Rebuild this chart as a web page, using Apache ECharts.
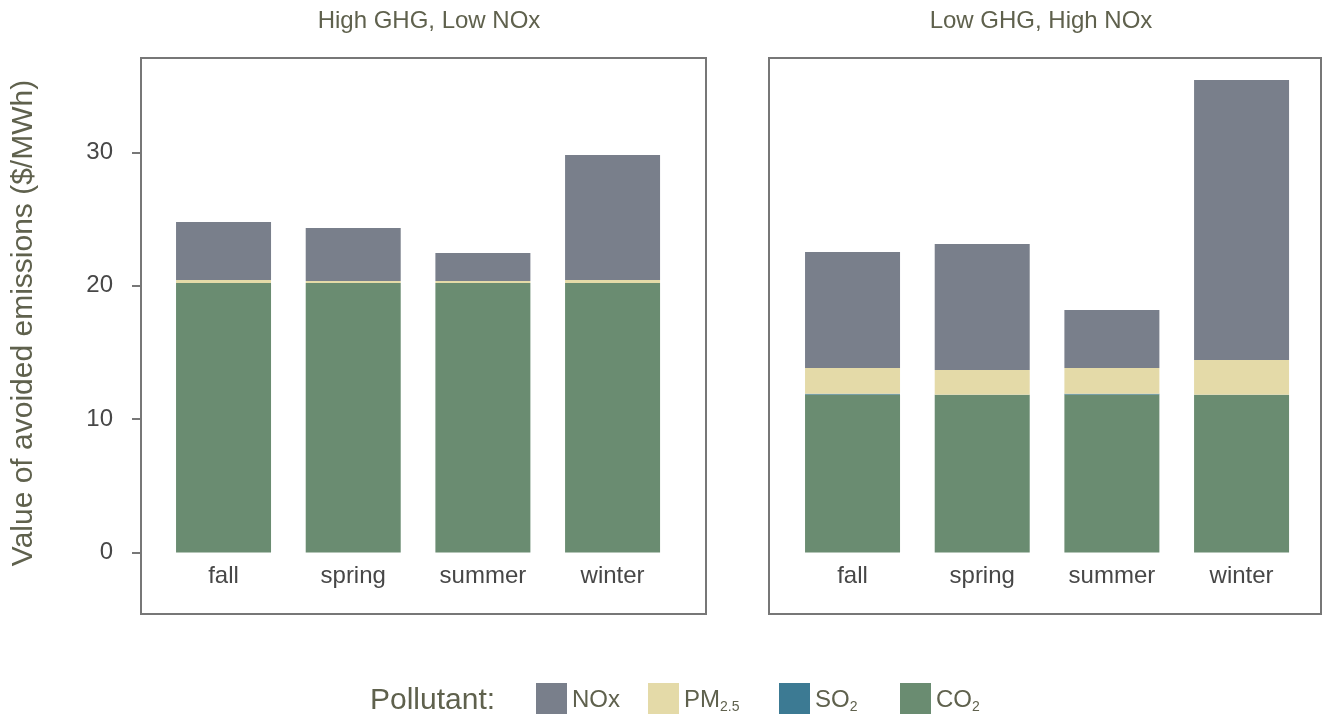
<!DOCTYPE html>
<html lang="en">

<head>
	<meta charset="UTF-8">
	<title>Value of avoided emissions</title>
	<script src="https://cdn.jsdelivr.net/npm/echarts@6/dist/echarts.min.js"></script>
	<style>
		html, body { margin: 0; padding: 0; background: #fff; }
	</style>
</head>

<body>
	<div id="main" style="width: 1323px;height: 719px;"></div>

	<script>
		// seasons on the x axis of both panels
		var seasons = ['fall', 'spring', 'summer', 'winter'];
		var panelTitles = ['High GHG, Low NOx', 'Low GHG, High NOx'];
		var yTicks = [0, 10, 20, 30];
		var pollutants = ['NOx', 'PM2.5', 'SO2', 'CO2'];

		// High GHG, Low NOx ($/MWh)
		var co2Left = [20.2, 20.2, 20.2, 20.2];
		var so2Left = [0.01, 0.01, 0.01, 0.01];
		var pmLeft = [0.22, 0.15, 0.15, 0.22];
		var noxLeft = [4.35, 3.97, 2.09, 9.37];

		// Low GHG, High NOx ($/MWh)
		var co2Right = [11.85, 11.8, 11.85, 11.8];
		var so2Right = [0.05, 0.02, 0.05, 0.02];
		var pmRight = [1.93, 1.86, 1.93, 2.61];
		var noxRight = [8.7, 9.45, 4.35, 20.99];

		var colors = {
			'NOx': '#797f8b',
			'PM2.5': '#e4daa8',
			'SO2': '#3c7a93',
			'CO2': '#6a8c71'
		};
		var legendLabels = {
			'NOx': '{n|NOx}',
			'PM2.5': '{n|PM}{s|2.5}',
			'SO2': '{n|SO}{s|2}',
			'CO2': '{n|CO}{s|2}'
		};
		var legendLeft = [536, 648, 779, 900];

		var FONT = 'Liberation Sans';
		var OLIVE = '#5f614d';
		var Y_MIN = -4.6, Y_MAX = 37.07;

		var chartDom = document.getElementById('main');
		var myChart = echarts.init(chartDom);

		function stackSeries(gridIdx, stack, co2, so2, pm, nox) {
			var list = [
				['CO2', co2], ['SO2', so2], ['PM2.5', pm], ['NOx', nox]
			];
			return list.map(function (d) {
				return {
					type: 'bar',
					name: d[0],
					stack: stack,
					xAxisIndex: gridIdx,
					yAxisIndex: gridIdx,
					barWidth: 95,
					itemStyle: { color: colors[d[0]] },
					emphasis: { disabled: true },
					data: d[1]
				};
			});
		}

		// one legend block per pollutant so each swatch sits where it should
		var legends = pollutants.map(function (p, i) {
			return {
				data: [p],
				left: legendLeft[i],
				top: 683,
				padding: 0,
				itemWidth: 31,
				itemHeight: 31,
				itemGap: 0,
				icon: 'rect',
				selectedMode: false,
				formatter: function (name) { return legendLabels[name]; },
				textStyle: {
					fontFamily: FONT,
					color: OLIVE,
					rich: {
						n: { fontFamily: FONT, fontSize: 24, color: OLIVE, lineHeight: 31, padding: [4, 0, 0, 0] },
						s: { fontFamily: FONT, fontSize: 14, color: OLIVE, lineHeight: 4, verticalAlign: 'bottom' }
					}
				}
			};
		});

		var boxGrid = { show: true, borderColor: '#777', borderWidth: 2, backgroundColor: 'transparent', top: 58, height: 556 };
		var catLabel = { margin: 12, fontSize: 24, color: '#474747', fontFamily: FONT };

		var option = {
			animation: false,
			textStyle: { fontFamily: FONT },
			title: [
				{
					text: panelTitles[0], left: 429, top: 9, padding: 0, textAlign: 'center',
					textStyle: { fontFamily: FONT, fontWeight: 'normal', fontSize: 24, color: OLIVE }
				},
				{
					text: panelTitles[1], left: 1041, top: 9, padding: 0, textAlign: 'center',
					textStyle: { fontFamily: FONT, fontWeight: 'normal', fontSize: 24, color: OLIVE }
				},
				{
					text: 'Pollutant:', left: 370, top: 686, padding: 0,
					textStyle: { fontFamily: FONT, fontWeight: 'normal', fontSize: 30, color: OLIVE }
				}
			],
			legend: legends,
			graphic: [
				{
					type: 'text',
					x: 24,
					y: 323,
					rotation: Math.PI / 2,
					style: {
						text: 'Value of avoided emissions ($/MWh)',
						font: '30px "Liberation Sans"',
						fill: OLIVE,
						textAlign: 'center',
						textVerticalAlign: 'middle'
					}
				}
			],
			grid: [
				// data grids: from the top of the panel down to the zero line
				{ left: 158.7, width: 518.7, top: 58, height: 494.5, show: false },
				{ left: 787.7, width: 518.7, top: 58, height: 494.5, show: false },
				// panel boxes
				Object.assign({ left: 141, width: 565 }, boxGrid),
				Object.assign({ left: 769, width: 552 }, boxGrid)
			],
			xAxis: [
				{
					type: 'category', gridIndex: 0, data: seasons,
					axisLine: { show: false }, axisTick: { show: false },
					axisLabel: catLabel
				},
				{
					type: 'category', gridIndex: 1, data: seasons,
					axisLine: { show: false }, axisTick: { show: false },
					axisLabel: catLabel
				},
				{ type: 'value', gridIndex: 2, show: false },
				{ type: 'value', gridIndex: 3, show: false }
			],
			yAxis: [
				{ type: 'value', gridIndex: 0, min: 0, max: Y_MAX, show: false },
				{ type: 'value', gridIndex: 1, min: 0, max: Y_MAX, show: false },
				{
					type: 'value', gridIndex: 2, min: Y_MIN, max: Y_MAX,
					axisLine: { show: false },
					splitLine: { show: false },
					axisTick: { show: true, length: 9, lineStyle: { color: '#777', width: 2 }, customValues: yTicks },
					axisLabel: { margin: 28, fontSize: 24, color: '#474747', fontFamily: FONT, customValues: yTicks }
				},
				{ type: 'value', gridIndex: 3, min: Y_MIN, max: Y_MAX, show: false }
			],
			series: [].concat(
				stackSeries(0, 'left', co2Left, so2Left, pmLeft, noxLeft),
				stackSeries(1, 'right', co2Right, so2Right, pmRight, noxRight)
			)
		};

		myChart.setOption(option);
	</script>
</body>

</html>
